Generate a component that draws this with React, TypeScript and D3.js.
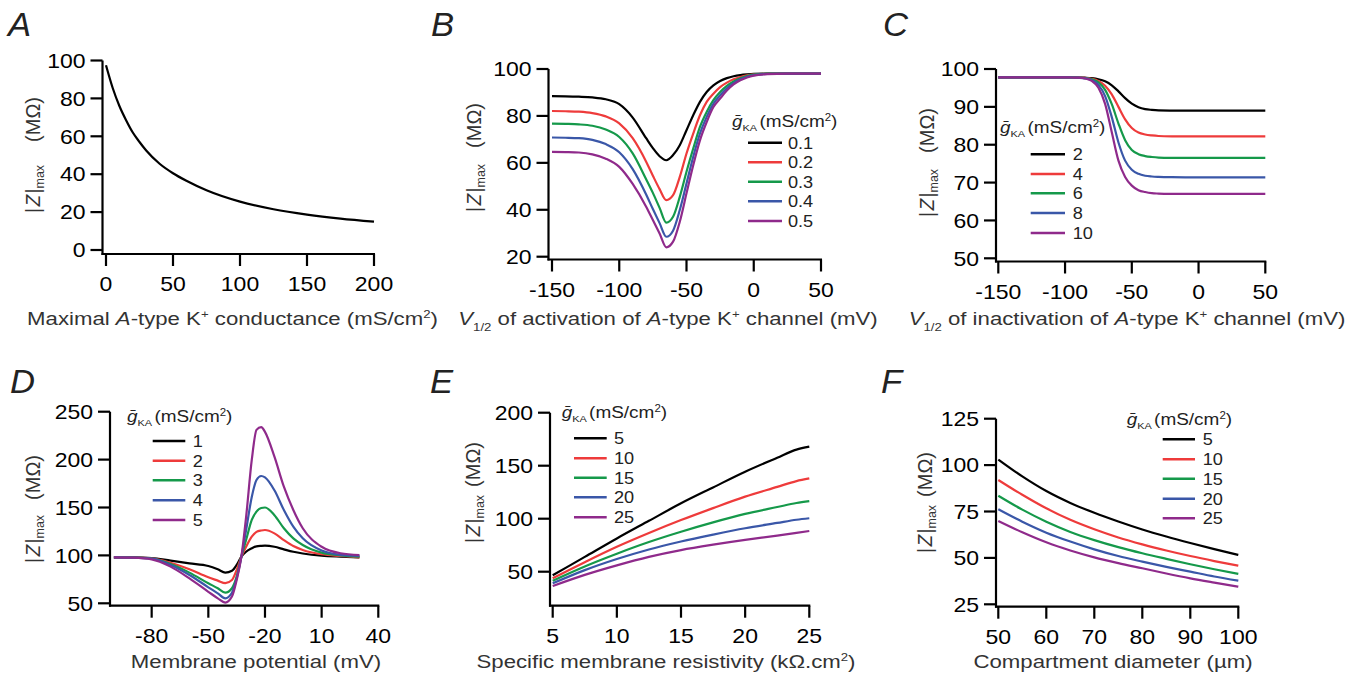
import React from 'react';
import * as d3 from 'd3';

const FONT = "'Liberation Sans', Arial, Helvetica, sans-serif";
const COLORS = ['#000000', '#ee3b3b', '#15994a', '#3a57a8', '#8f2a8b'];

// ---------- Panel A ----------
const xA = [0, 5, 10, 15, 20, 25, 30, 40, 50, 60, 75, 100, 125, 150, 175, 200];
const zA = [97.5, 85.5, 76, 68.5, 62, 57, 52.5, 45.5, 40.5, 36.5, 31.5, 25.5, 21.5, 18.7, 16.6, 15];

// ---------- Panel B ----------
const xB = [-150, -140, -130, -120, -110, -100, -90, -80, -75, -70, -65, -60, -55, -50, -45, -40, -35, -30, -25, -20, -15, -10, -5, 0, 10, 25, 50];
const zB1 = [88.4, 88.35, 88.2, 87.9, 87.1, 85, 79.3, 70.5, 66.3, 62.8, 61.1, 63.3, 67.5, 73.9, 80.3, 86, 90.2, 93, 94.9, 96.1, 96.9, 97.4, 97.7, 97.9, 98, 98, 98];
const zB2 = [82.1, 82, 81.8, 81.2, 79.8, 76.8, 70.5, 60.5, 54.5, 48.8, 44.1, 46.2, 54, 64, 72.5, 80.3, 86, 89.5, 92.3, 94.2, 95.6, 96.6, 97.3, 97.7, 98, 98, 98];
const zB3 = [76.7, 76.6, 76.4, 75.8, 74.2, 71, 64, 53, 47.2, 40.8, 34.5, 37, 45.5, 56.2, 66.1, 75.3, 81.7, 86.7, 90.2, 92.8, 94.7, 96, 97, 97.6, 98, 98, 98];
const zB4 = [70.8, 70.7, 70.5, 69.8, 68, 64.5, 57.3, 46.5, 40.3, 34.3, 28.5, 31.1, 39.9, 51.2, 62.6, 72.5, 79.6, 85.2, 88.8, 91.8, 94, 95.6, 96.7, 97.4, 97.9, 98, 98];
const zB5 = [64.7, 64.6, 64.4, 63.6, 61.8, 58.3, 51, 41.3, 35.6, 29.9, 24, 26.4, 34.9, 47, 59, 69.6, 77.4, 83.8, 87.4, 90.8, 93.4, 95.2, 96.4, 97.2, 97.8, 98, 98];
const legB = ['0.1', '0.2', '0.3', '0.4', '0.5'];

// ---------- Panel C ----------
const xC = [-150, -125, -100, -95, -90, -85, -80, -75, -70, -65, -60, -55, -50, -45, -40, -35, -30, -20, -10, 0, 25, 50];
const zC1 = [97.8, 97.8, 97.8, 97.78, 97.76, 97.7, 97.58, 97.3, 96.75, 95.7, 94.1, 92.3, 90.84, 89.9, 89.4, 89.2, 89.08, 89.02, 89, 89, 89, 89];
const zC2 = [97.8, 97.8, 97.8, 97.77, 97.73, 97.64, 97.4, 96.85, 95.6, 93.3, 90, 86.7, 84.4, 83.2, 82.7, 82.45, 82.3, 82.22, 82.2, 82.2, 82.2, 82.2];
const zC3 = [97.8, 97.8, 97.8, 97.77, 97.73, 97.6, 97.3, 96.46, 94.5, 90.7, 85.6, 81.2, 78.6, 77.5, 77, 76.75, 76.6, 76.52, 76.5, 76.5, 76.5, 76.5];
const zC4 = [97.8, 97.8, 97.8, 97.76, 97.7, 97.54, 97.06, 95.8, 92.84, 87.3, 80.6, 75.8, 73.4, 72.3, 71.8, 71.6, 71.5, 71.42, 71.4, 71.4, 71.4, 71.4];
const zC5 = [97.8, 97.8, 97.8, 97.75, 97.7, 97.48, 96.85, 95.06, 90.8, 83.3, 75.8, 71.5, 69.2, 68, 67.5, 67.2, 67.1, 67.02, 67, 67, 67, 67];
const legC = ['2', '4', '6', '8', '10'];

// ---------- Panel D ----------
const xD = [-100, -90, -80, -70, -60, -50, -45, -41, -37.5, -35, -32.5, -30, -27, -24.5, -22, -20, -15, -10, -5, 0, 10, 20, 30];
const zD1 = [98, 97.9, 97.3, 94.5, 91.7, 89, 85.5, 82, 84, 90, 98.7, 103.8, 107.4, 109.5, 110, 110.2, 109, 106.3, 103.8, 102, 99.7, 98.7, 98];
const zD2 = [98, 97.8, 97, 92.4, 85.5, 77.1, 73.7, 71, 74.3, 84.8, 98.6, 109, 119.5, 124.5, 126, 126.5, 123, 116, 109.8, 105.7, 101.2, 99.4, 98];
const zD3 = [98, 97.8, 96.6, 91, 82, 70.9, 65.7, 61.1, 65.7, 77.8, 98.7, 116, 137, 145.7, 149.5, 150, 142, 128.3, 117.8, 110.9, 102.9, 100.1, 98.8];
const zD4 = [98, 97.7, 96.6, 90, 79.6, 66.7, 60.4, 55.2, 61, 76, 98.6, 126.5, 161, 178.7, 182.9, 181.5, 168, 147.4, 130, 117.8, 105, 100.5, 99.4];
const zD5 = [98, 97.6, 95.9, 88.3, 76, 62, 55.2, 50.7, 57, 74.3, 98.7, 140, 199.6, 231, 234, 229, 203, 171.7, 147.4, 128.3, 109, 102.2, 100.4];
const legD = ['1', '2', '3', '4', '5'];

// ---------- Panel E ----------
const xE = [5, 7.5, 10, 12.5, 15, 17.5, 20, 22.5, 24, 25];
const zE1 = [46.6, 64, 81.4, 98, 114.5, 129.5, 144.3, 157.5, 165.2, 168];
const zE2 = [43.8, 59, 73.5, 86.5, 98.7, 110, 120.8, 130, 135.5, 138];
const zE3 = [41.5, 55, 67, 78, 87.7, 96.5, 104.5, 111, 114.8, 116.5];
const zE4 = [39, 51.5, 62, 71, 78.5, 85, 91, 96, 99, 100.4];
const zE5 = [36.5, 47, 56, 64, 70.4, 75.5, 80, 84, 86.6, 88.4];
const legE = ['5', '10', '15', '20', '25'];

// ---------- Panel F ----------
const xF = [50, 55, 60, 65, 70, 75, 80, 85, 90, 95, 100];
const zF1 = [103, 93.9, 86, 79.6, 74.3, 69.6, 65.3, 61.5, 58, 54.7, 51.6];
const zF2 = [92, 84, 76.7, 70.5, 65.4, 61, 57.3, 54, 51, 48.3, 45.8];
const zF3 = [83.5, 76, 69.5, 64, 59.6, 55.8, 52.5, 49.5, 46.6, 43.9, 41.4];
const zF4 = [76.2, 69.5, 63.6, 58.8, 54.6, 51, 48, 45.2, 42.6, 40, 37.7];
const zF5 = [69.9, 63.8, 58.4, 54, 50.3, 47.2, 44.4, 41.6, 39, 36.7, 34.5];
const legF = ['5', '10', '15', '20', '25'];

type Legend = { x: number; titleY: number; rows: number[]; lineX: [number, number]; labelX: number; labels: string[] };

type Cfg = {
  letter: string; letterX: number; letterY: number;
  xDomain: [number, number]; xRange: [number, number];
  yDomain: [number, number]; yRange: [number, number];
  axisX: number; axisY: number;
  xTicks: number[]; yTicks: number[];
  xs: number[]; series: number[][];
  legend?: Legend;
  xTitle: React.ReactNode; xTitleX: number; xTitleY: number;
  yTitle: { x: number; top: number; bottom: number };
};

const SX_TICK = 1.15;
const SX_TITLE = 1.2;

function STxt({ x, y, sx, anchor, size, children, fill = '#000', italic = false }: any) {
  return (
    <g transform={`translate(${x},${y}) scale(${sx},1)`}>
      <text x={0} y={0} textAnchor={anchor} fontSize={size} fill={fill} fontFamily={FONT} fontStyle={italic ? 'italic' : 'normal'}>
        {children}
      </text>
    </g>
  );
}

function YTitle({ x, top, bottom }: { x: number; top: number; bottom: number }) {
  return (
    <g transform={`translate(${x},0) scale(1.05,1) rotate(-90)`} fontFamily={FONT} fill="#333">
      <text x={-bottom} y={0} textAnchor="start" fontSize={19}>
        <tspan fontSize={19}>|</tspan>
        <tspan dx={1.5} fontSize={19} fontStyle="italic">Z</tspan>
        <tspan dx={1.5} fontSize={19}>|</tspan>
        <tspan fontSize={12.5} dy={4}>max</tspan>
      </text>
      <text x={-top} y={0} textAnchor="end" fontSize={20}>
        (MΩ)
      </text>
    </g>
  );
}

function LegendTitle({ x, y }: { x: number; y: number }) {
  return (
    <g transform={`translate(${x},${y}) scale(1.15,1)`}>
      <text x={0} y={0} fontFamily={FONT} fontSize={16.5} fill="#222">
        <tspan fontStyle="italic">ḡ</tspan>
        <tspan fontSize={9.5} dy={4}>KA</tspan>
        <tspan dy={-4} dx={2} fontSize={16.5}>(mS/cm</tspan>
        <tspan fontSize={10} dy={-6}>2</tspan>
        <tspan dy={6} fontSize={16.5}>)</tspan>
      </text>
    </g>
  );
}

function Panel({ c }: { c: Cfg }) {
  const x = d3.scaleLinear().domain(c.xDomain).range(c.xRange);
  const y = d3.scaleLinear().domain(c.yDomain).range(c.yRange);
  const line = d3
    .line<number>()
    .x((_, i) => x(c.xs[i]))
    .y((d) => y(d))
    .curve(d3.curveMonotoneX);
  const yTop = y(c.yDomain[1]);
  const xRight = x(c.xDomain[1]);
  const TL = 12;
  return (
    <g>
      <STxt x={c.letterX} y={c.letterY} sx={1.05} anchor="start" size={33} italic fill="#222">
        {c.letter}
      </STxt>
      <line x1={c.axisX} x2={c.axisX} y1={yTop} y2={c.axisY + 1} stroke="#000" strokeWidth={2.2} />
      <line x1={c.axisX - 1} x2={xRight + 1} y1={c.axisY} y2={c.axisY} stroke="#000" strokeWidth={2.2} />
      {c.yTicks.map((t) => (
        <g key={'y' + t}>
          <line x1={c.axisX - TL} x2={c.axisX} y1={y(t)} y2={y(t)} stroke="#000" strokeWidth={2.2} />
          <STxt x={c.axisX - TL - 5} y={y(t) + 7.2} sx={SX_TICK} anchor="end" size={20}>
            {t}
          </STxt>
        </g>
      ))}
      {c.xTicks.map((t) => (
        <g key={'x' + t}>
          <line x1={x(t)} x2={x(t)} y1={c.axisY} y2={c.axisY + TL} stroke="#000" strokeWidth={2.2} />
          <STxt x={x(t)} y={c.axisY + 37} sx={SX_TICK} anchor="middle" size={20}>
            {t}
          </STxt>
        </g>
      ))}
      {c.series.map((s, i) => (
        <path key={'s' + i} d={line(s) || ''} fill="none" stroke={COLORS[i]} strokeWidth={2.2} strokeLinejoin="round" />
      ))}
      {c.legend && (
        <g>
          <LegendTitle x={c.legend.x} y={c.legend.titleY} />
          {c.legend.rows.map((ry, i) => (
            <g key={'l' + i}>
              <line x1={c.legend!.lineX[0]} x2={c.legend!.lineX[1]} y1={ry} y2={ry} stroke={COLORS[i]} strokeWidth={2.4} />
              <STxt x={c.legend!.labelX} y={ry + 6} sx={1.1} anchor="start" size={16.5} fill="#222">
                {c.legend!.labels[i]}
              </STxt>
            </g>
          ))}
        </g>
      )}
      <STxt x={c.xTitleX} y={c.xTitleY} sx={SX_TITLE} anchor="middle" size={18.5} fill="#333">
        {c.xTitle}
      </STxt>
      <YTitle {...c.yTitle} />
    </g>
  );
}

const titleA = (
  <>
    <tspan>Maximal </tspan>
    <tspan fontStyle="italic">A</tspan>
    <tspan>-type K</tspan>
    <tspan fontSize={11} dy={-7}>+</tspan>
    <tspan dy={7} fontSize={18.5}> conductance (mS/cm</tspan>
    <tspan fontSize={11} dy={-7}>2</tspan>
    <tspan dy={7} fontSize={18.5}>)</tspan>
  </>
);
const titleV = (word: string) => (
  <>
    <tspan fontStyle="italic">V</tspan>
    <tspan fontSize={11} dy={6}>1/2</tspan>
    <tspan dy={-6} fontSize={18.5}> of {word} of </tspan>
    <tspan fontStyle="italic">A</tspan>
    <tspan>-type K</tspan>
    <tspan fontSize={11} dy={-7}>+</tspan>
    <tspan dy={7} fontSize={18.5}> channel (mV)</tspan>
  </>
);
const titleE = (
  <>
    <tspan>Specific membrane resistivity (kΩ.cm</tspan>
    <tspan fontSize={11} dy={-7}>2</tspan>
    <tspan dy={7} fontSize={18.5}>)</tspan>
  </>
);

const panels: Cfg[] = [
  {
    letter: 'A', letterX: 8, letterY: 36,
    xDomain: [0, 200], xRange: [106, 374], yDomain: [0, 100], yRange: [250, 60.5],
    axisX: 102.5, axisY: 254,
    xTicks: [0, 50, 100, 150, 200], yTicks: [0, 20, 40, 60, 80, 100],
    xs: xA, series: [zA],
    xTitle: titleA, xTitleX: 232.5, xTitleY: 325,
    yTitle: { x: 40, top: 97, bottom: 213 },
  },
  {
    letter: 'B', letterX: 431, letterY: 36,
    xDomain: [-150, 50], xRange: [552, 821], yDomain: [20, 100], yRange: [256.7, 69],
    axisX: 548.5, axisY: 259.5,
    xTicks: [-150, -100, -50, 0, 50], yTicks: [20, 40, 60, 80, 100],
    xs: xB, series: [zB1, zB2, zB3, zB4, zB5],
    legend: { x: 732, titleY: 126.5, rows: [142.7, 162.3, 181.7, 201.3, 221], lineX: [748, 782], labelX: 788, labels: legB },
    xTitle: titleV('activation'), xTitleX: 668, xTitleY: 325,
    yTitle: { x: 481, top: 103, bottom: 212 },
  },
  {
    letter: 'C', letterX: 883, letterY: 36,
    xDomain: [-150, 50], xRange: [998.3, 1265.3], yDomain: [50, 100], yRange: [258.3, 69],
    axisX: 996, axisY: 261.5,
    xTicks: [-150, -100, -50, 0, 50], yTicks: [50, 60, 70, 80, 90, 100],
    xs: xC, series: [zC1, zC2, zC3, zC4, zC5],
    legend: { x: 1000, titleY: 133, rows: [154.3, 174, 193.3, 213, 233], lineX: [1030.7, 1065], labelX: 1072.7, labels: legC },
    xTitle: titleV('inactivation'), xTitleX: 1127, xTitleY: 325,
    yTitle: { x: 934, top: 108, bottom: 217 },
  },
  {
    letter: 'D', letterX: 10, letterY: 393,
    xDomain: [-100, 40], xRange: [113.9, 378.3], yDomain: [50, 250], yRange: [603.3, 411.7],
    axisX: 110, axisY: 605.7,
    xTicks: [-80, -50, -20, 10, 40], yTicks: [50, 100, 150, 200, 250],
    xs: xD, series: [zD1, zD2, zD3, zD4, zD5],
    legend: { x: 127, titleY: 422, rows: [441, 460.7, 480.3, 500.3, 520], lineX: [152.7, 185.3], labelX: 192.7, labels: legD },
    xTitle: <tspan>Membrane potential (mV)</tspan>, xTitleX: 256, xTitleY: 668,
    yTitle: { x: 40, top: 455, bottom: 563 },
  },
  {
    letter: 'E', letterX: 430, letterY: 393,
    xDomain: [5, 25], xRange: [552.7, 809.3], yDomain: [20, 200], yRange: [603.5, 412.7],
    axisX: 550, axisY: 605.7,
    xTicks: [5, 10, 15, 20, 25], yTicks: [50, 100, 150, 200],
    xs: xE, series: [zE1, zE2, zE3, zE4, zE5],
    legend: { x: 561.7, titleY: 418, rows: [438.3, 458.3, 477.7, 497.3, 517.3], lineX: [574, 606.7], labelX: 614, labels: legE },
    xTitle: titleE, xTitleX: 666, xTitleY: 668,
    yTitle: { x: 480, top: 442, bottom: 543 },
  },
  {
    letter: 'F', letterX: 881, letterY: 393,
    xDomain: [50, 100], xRange: [998.3, 1238.3], yDomain: [25, 125], yRange: [604.3, 418.7],
    axisX: 996, axisY: 606.7,
    xTicks: [50, 60, 70, 80, 90, 100], yTicks: [25, 50, 75, 100, 125],
    xs: xF, series: [zF1, zF2, zF3, zF4, zF5],
    legend: { x: 1126.7, titleY: 424.5, rows: [439.3, 459.3, 478.7, 498.7, 518.3], lineX: [1162.7, 1195], labelX: 1202.7, labels: legF },
    xTitle: <tspan>Compartment diameter (µm)</tspan>, xTitleX: 1113, xTitleY: 668,
    yTitle: { x: 932, top: 452, bottom: 553 },
  },
];

export default function App() {
  return (
    <svg
      width={1363}
      height={679}
      viewBox="0 0 1363 679"
      style={{ position: 'absolute', left: 0, top: 0, background: '#fff' }}
    >
      <rect x={0} y={0} width={1363} height={679} fill="#fff" />
      {panels.map((c) => (
        <Panel key={c.letter} c={c} />
      ))}
    </svg>
  );
}
